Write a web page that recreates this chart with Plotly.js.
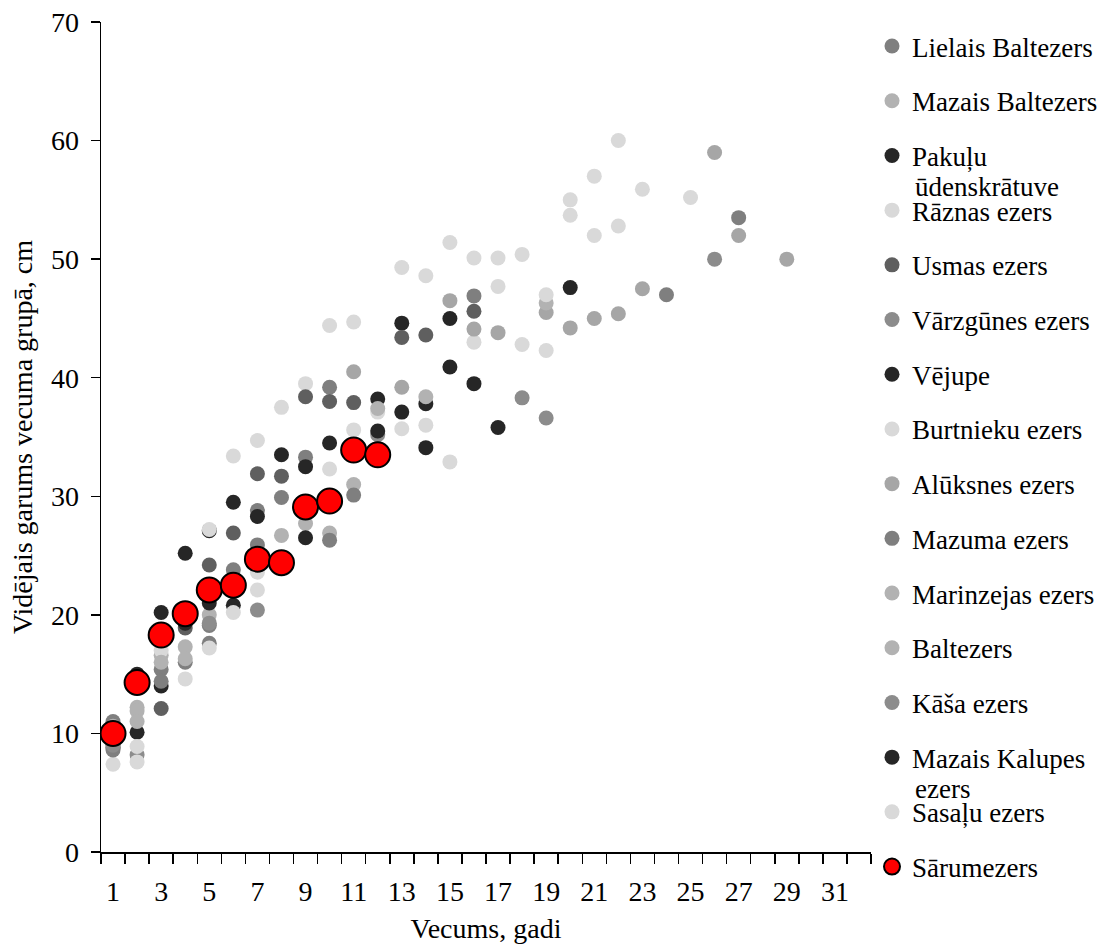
<!DOCTYPE html>
<html>
<head>
<meta charset="utf-8">
<script src="https://cdn.plot.ly/plotly-3.0.1.min.js"></script>
<style>
  html, body { margin: 0; padding: 0; background: #ffffff; }
  #chart { width: 1102px; height: 945px; }
</style>
</head>
<body>
<div id="chart"></div>
<script>
// Mean length (cm) by age group (years) for each lake
const lielaisBaltezersAge = [1, 3, 5, 6, 7, 8, 9, 10, 16, 24, 27];
const lielaisBaltezersLen = [11.0, 15.4, 19.1, 23.8, 28.8, 29.9, 33.3, 39.2, 46.9, 47.0, 53.5];

const mazaisBaltezersAge = [1, 2, 3, 4, 5, 8, 9, 10, 11];
const mazaisBaltezersLen = [10.6, 12.2, 16.6, 17.3, 20.0, 26.7, 27.7, 26.9, 31.0];

const pakulyAge = [2, 3, 4, 5, 6, 8, 10, 12, 13, 15, 20];
const pakulyLen = [15.0, 20.2, 25.2, 27.1, 29.5, 33.5, 34.5, 38.2, 44.6, 45.0, 47.6];

const raznasAge = [3, 5, 6, 7, 8, 9, 10, 11, 13, 14, 15, 16, 17, 18, 20, 21, 22, 23, 25];
const raznasLen = [17.0, 27.2, 33.4, 34.7, 37.5, 39.5, 44.4, 44.7, 49.3, 48.6, 51.4, 50.1, 50.1, 50.4, 55.0, 57.0, 60.0, 55.9, 55.2];

const usmasAge = [3, 4, 5, 6, 7, 8, 9, 10, 11, 13, 14, 16];
const usmasLen = [12.1, 18.9, 24.2, 26.9, 31.9, 31.7, 38.4, 38.0, 37.9, 43.4, 43.6, 45.6];

const varzgunesAge = [2, 7, 12, 18, 19, 26];
const varzgunesLen = [8.2, 20.4, 35.2, 38.3, 36.6, 50.0];

const vejupeAge = [1, 2, 3, 4, 5, 6, 7, 9, 12, 13, 14, 15, 16];
const vejupeLen = [8.8, 10.1, 14.0, 19.3, 21.0, 20.8, 28.3, 32.5, 35.5, 37.1, 37.8, 40.9, 39.5];

const burtniekuAge = [1, 2, 4, 6, 7, 10, 11, 12, 13, 14, 15, 16, 17, 18, 19, 20, 21, 22];
const burtniekuLen = [7.4, 8.9, 14.6, 20.2, 23.6, 32.3, 35.6, 37.1, 35.7, 36.0, 32.9, 43.0, 47.7, 42.8, 42.3, 53.7, 52.0, 52.8];

const aluksnesAge = [11, 13, 15, 16, 17, 19, 20, 21, 22, 23, 26, 27, 29];
const aluksnesLen = [40.5, 39.2, 46.5, 44.1, 43.8, 45.5, 44.2, 45.0, 45.4, 47.5, 59.0, 52.0, 50.0];

const mazumaAge = [1, 3, 4, 5, 7, 10, 11];
const mazumaLen = [8.6, 14.4, 16.0, 17.6, 25.9, 26.3, 30.1];

const marinzejasAge = [1, 2, 3, 12, 14, 19];
const marinzejasLen = [9.3, 11.9, 16.0, 37.4, 38.4, 46.3];

const baltezersAge = [2, 4];
const baltezersLen = [11.0, 16.3];

const kasaAge = [1, 5];
const kasaLen = [9.0, 19.3];

const mazaisKalupesAge = [9, 14, 17];
const mazaisKalupesLen = [26.5, 34.1, 35.8];

const sasaluAge = [2, 5, 7, 19];
const sasaluLen = [7.6, 17.2, 22.1, 47.0];

const sarumezersAge = [1, 2, 3, 4, 5, 6, 7, 8, 9, 10, 11, 12];
const sarumezersLen = [10.0, 14.3, 18.3, 20.1, 22.1, 22.5, 24.7, 24.4, 29.1, 29.6, 33.9, 33.5];

// Series names (a line break marks where the legend label wraps)
const seriesNames = [
  "Lielais Baltezers", "Mazais Baltezers", "Pakuļu\nūdenskrātuve", "Rāznas ezers",
  "Usmas ezers", "Vārzgūnes ezers", "Vējupe", "Burtnieku ezers",
  "Alūksnes ezers", "Mazuma ezers", "Marinzejas ezers", "Baltezers",
  "Kāša ezers", "Mazais Kalupes\nezers", "Sasaļu ezers", "Sārumezers"
];
const seriesAges = [
  lielaisBaltezersAge, mazaisBaltezersAge, pakulyAge, raznasAge,
  usmasAge, varzgunesAge, vejupeAge, burtniekuAge,
  aluksnesAge, mazumaAge, marinzejasAge, baltezersAge,
  kasaAge, mazaisKalupesAge, sasaluAge, sarumezersAge
];
const seriesLens = [
  lielaisBaltezersLen, mazaisBaltezersLen, pakulyLen, raznasLen,
  usmasLen, varzgunesLen, vejupeLen, burtniekuLen,
  aluksnesLen, mazumaLen, marinzejasLen, baltezersLen,
  kasaLen, mazaisKalupesLen, sasaluLen, sarumezersLen
];
const seriesColors = [
  "#7f7f7f", "#b2b2b2", "#262626", "#d9d9d9",
  "#5f5f5f", "#8c8c8c", "#262626", "#d9d9d9",
  "#a6a6a6", "#7f7f7f", "#b2b2b2", "#b2b2b2",
  "#8c8c8c", "#262626", "#d9d9d9", "#ff0000"
];

// Odd ages are labelled on the x axis
const xTickVals = [1, 3, 5, 7, 9, 11, 13, 15, 17, 19, 21, 23, 25, 27, 29, 31];

const FONT = "Liberation Serif, Times New Roman, serif";
const W = 1102, H = 945;
const M = { l: 101, r: 231, t: 22, b: 93 };
const plotW = W - M.l - M.r, plotH = H - M.t - M.b;
const paperX = px => (px - M.l) / plotW;
const paperY = py => (H - M.b - py) / plotH;

const legendTop = 22;
const legendLeft = 872;
const legendStep = 54.7;
const legendTextX = legendLeft + 41;

const traces = seriesNames.map((name, i) => {
  const isMain = i === seriesNames.length - 1;
  return {
    type: "scatter",
    mode: "markers",
    name: name.split("\n")[0],
    legendgroup: "g" + i,
    x: seriesAges[i],
    y: seriesLens[i],
    marker: isMain
      ? { size: 25, color: seriesColors[i], line: { color: "#000000", width: 2 } }
      : { size: 15, color: seriesColors[i], line: { width: 0 } },
    hoverinfo: "x+y+name"
  };
});

// Wrapped continuation lines of the long legend labels
const annotations = [];
seriesNames.forEach((name, i) => {
  const parts = name.split("\n");
  if (parts.length > 1) {
    annotations.push({
      xref: "paper", yref: "paper",
      x: paperX(legendTextX),
      y: paperY(legendTop + 25 + i * legendStep + 31),
      xanchor: "left", yanchor: "middle",
      showarrow: false,
      text: parts[1],
      font: { family: FONT, size: 27, color: "#000000" }
    });
  }
});

const layout = {
  width: W, height: H,
  margin: { l: M.l, r: M.r, t: M.t, b: M.b, autoexpand: false },
  paper_bgcolor: "#ffffff",
  plot_bgcolor: "#ffffff",
  font: { family: FONT, color: "#000000" },
  showlegend: true,
  legend: {
    x: paperX(legendLeft),
    y: paperY(legendTop),
    xanchor: "left", yanchor: "top",
    maxheight: 920,
    font: { family: FONT, size: 27, color: "#000000" },
    tracegroupgap: legendStep - (27 * 1.3 + 3),
    traceorder: "grouped",
    bgcolor: "rgba(0,0,0,0)",
    borderwidth: 0,
    valign: "middle"
  },
  xaxis: {
    range: [0.5, 32.5],
    tickmode: "array",
    tickvals: xTickVals,
    ticktext: xTickVals.map(String),
    ticks: "",
    ticklabelstandoff: 14,
    tickfont: { family: FONT, size: 28, color: "#000000" },
    showline: true, linecolor: "#000000", linewidth: 1.5,
    showgrid: false, zeroline: false,
    minor: {
      tickmode: "linear", tick0: 0.5, dtick: 1,
      ticks: "outside", ticklen: 10, tickwidth: 1.5, tickcolor: "#000000",
      showgrid: false
    },
    title: { text: "Vecums, gadi", font: { family: FONT, size: 28, color: "#000000" }, standoff: 12 }
  },
  yaxis: {
    range: [0, 70],
    tickmode: "linear", tick0: 0, dtick: 10,
    ticks: "outside", ticklen: 9, tickwidth: 1.5, tickcolor: "#000000",
    ticklabelstandoff: 6,
    tickfont: { family: FONT, size: 28, color: "#000000" },
    showline: true, linecolor: "#000000", linewidth: 1.5,
    showgrid: false, zeroline: false,
    title: { text: "Vidējais garums vecuma grupā, cm", font: { family: FONT, size: 28, color: "#000000" }, standoff: 10 }
  },
  annotations: annotations
};

Plotly.newPlot("chart", traces, layout, { displayModeBar: false, staticPlot: true });
</script>
</body>
</html>
